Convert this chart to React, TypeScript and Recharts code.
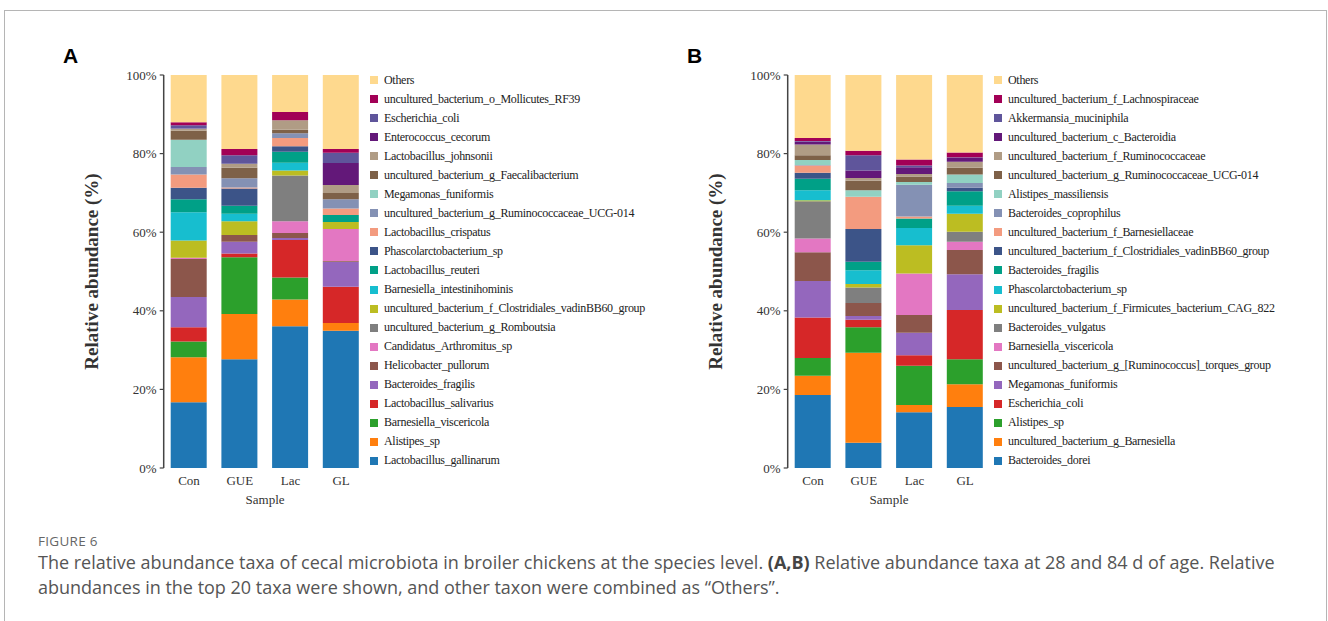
import React from 'react';
import { BarChart, Bar, XAxis, YAxis, Legend } from 'recharts';

// Samples on the x axis
const samples = ['Con', 'GUE', 'Lac', 'GL'];

// Panel A taxa, bottom of the stack first (Others on top)
const taxaA = [
  'Lactobacillus_gallinarum',
  'Alistipes_sp',
  'Barnesiella_viscericola',
  'Lactobacillus_salivarius',
  'Bacteroides_fragilis',
  'Helicobacter_pullorum',
  'Candidatus_Arthromitus_sp',
  'uncultured_bacterium_g_Romboutsia',
  'uncultured_bacterium_f_Clostridiales_vadinBB60_group',
  'Barnesiella_intestinihominis',
  'Lactobacillus_reuteri',
  'Phascolarctobacterium_sp',
  'Lactobacillus_crispatus',
  'uncultured_bacterium_g_Ruminococcaceae_UCG-014',
  'Megamonas_funiformis',
  'uncultured_bacterium_g_Faecalibacterium',
  'Lactobacillus_johnsonii',
  'Enterococcus_cecorum',
  'Escherichia_coli',
  'uncultured_bacterium_o_Mollicutes_RF39',
  'Others',
];

// Panel A values (%) per sample, same order as taxaA
const conA = [16.7, 11.5, 4.0, 3.6, 7.7, 9.7, 0.3, 0, 4.4, 7.2, 3.3, 2.9, 3.4, 1.9, 6.9, 2.3, 0.5, 0.1, 0.8, 0.8, 12.0];
const gueA = [27.7, 11.5, 14.4, 1.0, 3.0, 1.7, 0, 0, 3.5, 1.9, 2.0, 4.4, 0.3, 2.3, 0, 2.7, 1.0, 0, 2.2, 1.6, 18.8];
const lacA = [36.1, 6.8, 5.6, 9.5, 0.5, 1.3, 3.0, 11.6, 1.3, 2.0, 2.8, 1.4, 2.1, 1.2, 0, 0.9, 2.4, 0, 0, 2.1, 9.4];
const glA = [34.9, 2.0, 0, 9.2, 6.4, 0.2, 8.1, 0, 1.8, 0, 1.8, 0, 1.6, 2.4, 0, 1.6, 2.0, 5.6, 2.6, 1.0, 18.8];

// Panel B taxa, bottom of the stack first
const taxaB = [
  'Bacteroides_dorei',
  'uncultured_bacterium_g_Barnesiella',
  'Alistipes_sp',
  'Escherichia_coli',
  'Megamonas_funiformis',
  'uncultured_bacterium_g_[Ruminococcus]_torques_group',
  'Barnesiella_viscericola',
  'Bacteroides_vulgatus',
  'uncultured_bacterium_f_Firmicutes_bacterium_CAG_822',
  'Phascolarctobacterium_sp',
  'Bacteroides_fragilis',
  'uncultured_bacterium_f_Clostridiales_vadinBB60_group',
  'uncultured_bacterium_f_Barnesiellaceae',
  'Bacteroides_coprophilus',
  'Alistipes_massiliensis',
  'uncultured_bacterium_g_Ruminococcaceae_UCG-014',
  'uncultured_bacterium_f_Ruminococcaceae',
  'uncultured_bacterium_c_Bacteroidia',
  'Akkermansia_muciniphila',
  'uncultured_bacterium_f_Lachnospiraceae',
  'Others',
];

const conB = [18.6, 4.9, 4.5, 10.3, 9.3, 7.3, 3.5, 9.5, 0.2, 2.6, 2.9, 1.5, 1.9, 0.1, 1.3, 1.2, 2.7, 0.8, 0.1, 0.8, 16.0];
const gueB = [6.4, 22.9, 6.5, 1.9, 1.0, 3.3, 0, 3.9, 0.9, 3.5, 2.2, 8.3, 8.2, 0, 1.7, 2.4, 0.7, 1.9, 3.9, 1.1, 19.3];
const lacB = [14.2, 1.8, 10.0, 2.7, 5.7, 4.5, 10.6, 0, 7.2, 4.4, 2.4, 0, 0.5, 8.1, 0.7, 1.4, 0.6, 1.7, 0.5, 1.5, 21.5];
const glB = [15.5, 5.8, 6.4, 12.5, 9.1, 6.2, 2.1, 2.5, 4.6, 2.0, 3.7, 0.9, 0, 1.2, 2.2, 1.7, 1.5, 1.1, 0.1, 1.2, 19.7];

const yTicks = [0, 20, 40, 60, 80, 100];

// Colors, bottom of the stack first
const COLORS = [
  '#1f77b4', '#ff7f0e', '#2ca02c', '#d62728', '#9467bd', '#8c564b', '#e377c2',
  '#7f7f7f', '#bcbd22', '#17becf', '#00a087', '#3c5488', '#f39b7f', '#8491b4',
  '#91d1c2', '#7e6148', '#b09c85', '#631879', '#5f559b', '#a20056', '#fed98e',
];

const SERIF = "'Liberation Serif', 'Times New Roman', serif";

const buildRows = (values: number[][]) =>
  samples.map((s, i) => {
    const row: Record<string, any> = { sample: s };
    values[i].forEach((v, j) => {
      row['t' + j] = v;
    });
    return row;
  });

const yLabel = ({ viewBox }: any) => {
  const cx = viewBox.x + viewBox.width - 72;
  const cy = viewBox.y + viewBox.height / 2;
  return (
    <text
      x={cx}
      y={cy}
      transform={`rotate(-90 ${cx} ${cy})`}
      textAnchor="middle"
      dominantBaseline="central"
      fontFamily={SERIF}
      fontWeight="bold"
      fontSize={19}
      fill="#333"
    >
      Relative abundance (%)
    </text>
  );
};

const xLabel = ({ viewBox }: any) => (
  <text
    x={viewBox.x + viewBox.width / 2}
    y={viewBox.y + 36}
    textAnchor="middle"
    fontFamily={SERIF}
    fontSize={13}
    fill="#333"
  >
    Sample
  </text>
);

// legend lists the taxa top-down, as stacked (Others first)
const makeLegend = (taxa: string[]) => () => {
  const items = taxa.map((name, j) => ({ name, color: COLORS[j] })).reverse();
  return (
    <div style={{ fontFamily: SERIF, fontSize: 12, letterSpacing: -0.3, color: '#222' }}>
      {items.map((it, i) => (
        <div key={i} style={{ height: 19.05, display: 'flex', alignItems: 'center', whiteSpace: 'nowrap' }}>
          <span style={{ width: 8, height: 8, background: it.color, marginRight: 6, display: 'inline-block' }} />
          <span>{it.name}</span>
        </div>
      ))}
    </div>
  );
};

const Panel = ({ taxa, values, left, letter }: { taxa: string[]; values: number[][]; left: number; letter: string }) => {
  const rows = buildRows(values);
  return (
    <div style={{ position: 'absolute', left, top: 0 }}>
      <div
        style={{
          position: 'absolute',
          left: 63,
          top: 44,
          fontFamily: "'Liberation Sans', Arial, sans-serif",
          fontWeight: 'bold',
          fontSize: 21,
          color: '#000',
          zIndex: 2,
        }}
      >
        {letter}
      </div>
      <BarChart
        width={620}
        height={520}
        data={rows}
        margin={{ top: 75, right: 253.5, bottom: 22, left: 0 }}
        barSize={36}
      >
        <XAxis
          dataKey="sample"
          axisLine={false}
          tickLine={false}
          height={30}
          tick={{ fontFamily: SERIF, fontSize: 13, fill: '#333' }}
          label={xLabel}
        />
        <YAxis
          width={163.7}
          domain={[0, 100]}
          ticks={yTicks}
          tickFormatter={(v: number) => `${v}%`}
          tickSize={4}
          tickMargin={3}
          axisLine={{ stroke: '#444', strokeWidth: 1.5 }}
          tickLine={{ stroke: '#444', strokeWidth: 1.2 }}
          tick={{ fontFamily: SERIF, fontSize: 13, fill: '#333' }}
          label={yLabel}
        />
        <Legend
          layout="vertical"
          align="center"
          verticalAlign="middle"
          wrapperStyle={{ left: 370, top: 70.5, width: 300 }}
          content={makeLegend(taxa)}
        />
        {taxa.map((name, j) => (
          <Bar
            key={name}
            dataKey={'t' + j}
            name={name}
            stackId="a"
            fill={COLORS[j]}
            isAnimationActive={false}
          />
        ))}
      </BarChart>
    </div>
  );
};

const App: React.FC = () => {
  return (
    <div
      style={{
        position: 'absolute',
        left: 0,
        top: 0,
        width: 1328,
        height: 621,
        overflow: 'hidden',
        background: '#fff',
      }}
    >
      <div
        style={{
          position: 'absolute',
          left: 4,
          top: 10,
          width: 1321,
          height: 700,
          border: '1px solid #b5b5b5',
        }}
      />
      <Panel taxa={taxaA} values={[conA, gueA, lacA, glA]} left={0} letter="A" />
      <Panel taxa={taxaB} values={[conB, gueB, lacB, glB]} left={624} letter="B" />
      <div
        style={{
          position: 'absolute',
          left: 38,
          top: 532,
          fontFamily: "'Open Sans', sans-serif",
          fontSize: 13.5,
          color: '#666',
          letterSpacing: 0.3,
        }}
      >
        FIGURE 6
      </div>
      <div
        style={{
          position: 'absolute',
          left: 38,
          top: 550,
          fontFamily: "'Open Sans', sans-serif",
          fontSize: 18,
          lineHeight: '24.5px',
          color: '#555',
          whiteSpace: 'nowrap',
        }}
      >
        The relative abundance taxa of cecal microbiota in broiler chickens at the species level.{' '}
        <b style={{ color: '#444' }}>(A,B)</b> Relative abundance taxa at 28 and 84 d of age. Relative
        <br />
        abundances in the top 20 taxa were shown, and other taxon were combined as “Others”.
      </div>
    </div>
  );
};

export default App;
